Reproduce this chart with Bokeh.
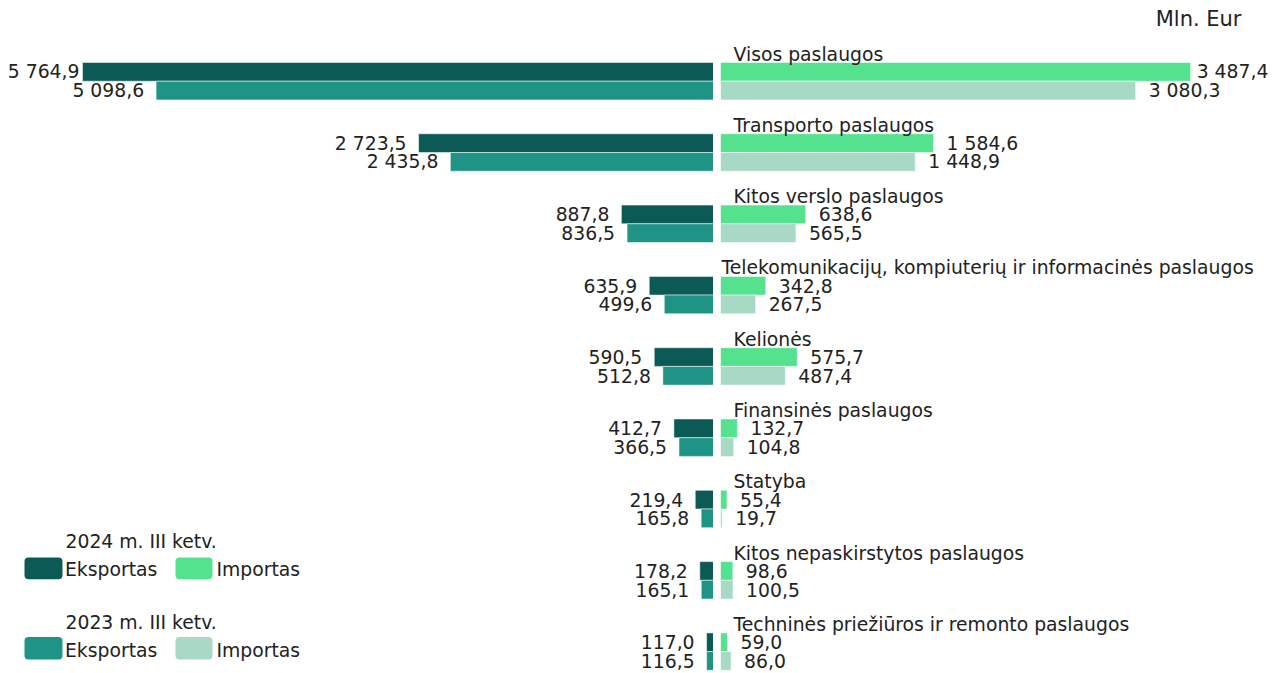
from bokeh.plotting import figure
from bokeh.layouts import row
from bokeh.models import Range1d, ColumnDataSource
from bokeh.core.properties import value
from bokeh.embed import file_html
from bokeh.resources import INLINE

categories = ["Visos paslaugos", "Transporto paslaugos", "Kitos verslo paslaugos",
              "Telekomunikacijų, kompiuterių ir informacinės paslaugos", "Kelionės",
              "Finansinės paslaugos", "Statyba", "Kitos nepaskirstytos paslaugos",
              "Techninės priežiūros ir remonto paslaugos"]
exp_2024 = [5764.9, 2723.5, 887.8, 635.9, 590.5, 412.7, 219.4, 178.2, 117.0]
exp_2023 = [5098.6, 2435.8, 836.5, 499.6, 512.8, 366.5, 165.8, 165.1, 116.5]
imp_2024 = [3487.4, 1584.6, 638.6, 342.8, 575.7, 132.7, 55.4, 98.6, 59.0]
imp_2023 = [3080.3, 1448.9, 565.5, 267.5, 487.4, 104.8, 19.7, 100.5, 86.0]
legend_years = ["2024 m. III ketv.", "2023 m. III ketv."]
legend_flows = ["Eksportas", "Importas"]
unit_label = "Mln. Eur"

C_EXP24 = "#0b5a56"
C_EXP23 = "#1f9385"
C_IMP24 = "#54e28e"
C_IMP23 = "#a7d9c4"
TXT = "#222222"
FONT = value("DejaVu Sans")
FS = value("18.8px")

# geometry (page pixels)
ZERO = 719.0
SL = 0.1105    # px per unit, left
SR = 0.1351    # px per unit, right
C0 = 80.7      # first group centre
SP = 71.3      # group spacing
W, H = 1277, 673
SPLIT = 713
BAR_H = 18.7 / SP
HALF = BAR_H / 2


def ly(py):
    return (py - C0) / SP


def lx(px):
    return (ZERO - px) / SL


def rx(px):
    return (px - ZERO) / SR


def fmt(v):
    return f"{v:,.1f}".replace(",", " ").replace(".", ",")


n = len(categories)
idx = list(range(n))
y1 = [i - HALF for i in idx]
y2 = [i + HALF for i in idx]
ymax = max(exp_2024)


def make_fig(width, xr, **kw):
    p = figure(width=width, height=H, x_range=xr,
               y_range=Range1d(start=ly(H), end=ly(0)),
               x_axis_location=None, y_axis_location=None,
               toolbar_location=None, output_backend="svg",
               min_border=0, **kw)
    p.grid.visible = False
    p.outline_line_color = None
    p.background_fill_color = "white"
    p.border_fill_color = "white"
    return p


# ---------------- left (exports) ----------------
left = make_fig(SPLIT, Range1d(start=lx(0), end=lx(SPLIT)))
src_l1 = ColumnDataSource(dict(y=y1, v=exp_2024, t=[fmt(v) for v in exp_2024],
                               xo=[-3 if v == ymax else -12 for v in exp_2024]))
src_l2 = ColumnDataSource(dict(y=y2, v=exp_2023, t=[fmt(v) for v in exp_2023],
                               xo=[-12 for v in exp_2023]))
for src, col in ((src_l1, C_EXP24), (src_l2, C_EXP23)):
    left.hbar(y="y", left=0, right="v", height=BAR_H, source=src,
              fill_color=col, line_color="white", line_alpha=0.5, line_width=1)
    left.text(x="v", y="y", text="t", source=src, x_offset="xo",
              text_align="right", text_baseline="middle",
              text_font=FONT, text_font_size=FS, text_color=TXT)

# legend (drawn in the left panel)
sw = [  # (x0, x1, y0, y1, colour)
    (24, 62, 557, 578.7, C_EXP24), (175, 212, 557, 578.7, C_IMP24),
    (24, 62, 636.5, 659, C_EXP23), (175, 212, 636.5, 659, C_IMP23)]
left.quad(left=[lx(s[0]) for s in sw], right=[lx(s[1]) for s in sw],
          top=[ly(s[2]) for s in sw], bottom=[ly(s[3]) for s in sw],
          fill_color=[s[4] for s in sw], line_color=None, border_radius=4)
leg_x = [lx(65), lx(65), lx(64.5), lx(216), lx(64.5), lx(216)]
leg_y = [ly(541), ly(621.5), ly(568.5), ly(568.5), ly(650), ly(650)]
leg_t = [legend_years[0], legend_years[1], legend_flows[0], legend_flows[1],
         legend_flows[0], legend_flows[1]]
left.text(x=leg_x, y=leg_y, text=leg_t, text_align="left",
          text_baseline="middle", text_font=FONT, text_font_size=FS,
          text_color=TXT)

# ---------------- right (imports) ----------------
right = make_fig(W - SPLIT, Range1d(start=rx(720), end=rx(W)), min_border_left=720 - SPLIT)
imax = max(imp_2024)
src_r1 = ColumnDataSource(dict(y=y1, v=imp_2024, t=[fmt(v) for v in imp_2024],
                               xo=[6 if v == imax else 13 for v in imp_2024]))
src_r2 = ColumnDataSource(dict(y=y2, v=imp_2023, t=[fmt(v) for v in imp_2023],
                               xo=[13 for v in imp_2023]))
for src, col in ((src_r1, C_IMP24), (src_r2, C_IMP23)):
    right.hbar(y="y", left=0, right="v", height=BAR_H, source=src,
               fill_color=col, line_color="white", line_alpha=0.5, line_width=1)
    right.text(x="v", y="y", text="t", source=src, x_offset="xo",
               text_align="left", text_baseline="middle",
               text_font=FONT, text_font_size=FS, text_color=TXT)

src_c = ColumnDataSource(dict(
    x=[0] * n, y=[i - BAR_H - 8.5 / SP for i in idx], t=categories,
    xo=[2 if len(c) > 45 else 14 for c in categories]))
right.text(x="x", y="y", text="t", source=src_c, x_offset="xo",
           text_align="left", text_baseline="middle",
           text_font=FONT, text_font_size=FS, text_color=TXT)

right.text(x=[rx(1241)], y=[ly(18)], text=[unit_label], text_align="right",
           text_baseline="middle", text_font=FONT,
           text_font_size=value("21px"), text_color=TXT)

layout = row(left, right)
open("out.html", "w").write(file_html(layout, INLINE))
